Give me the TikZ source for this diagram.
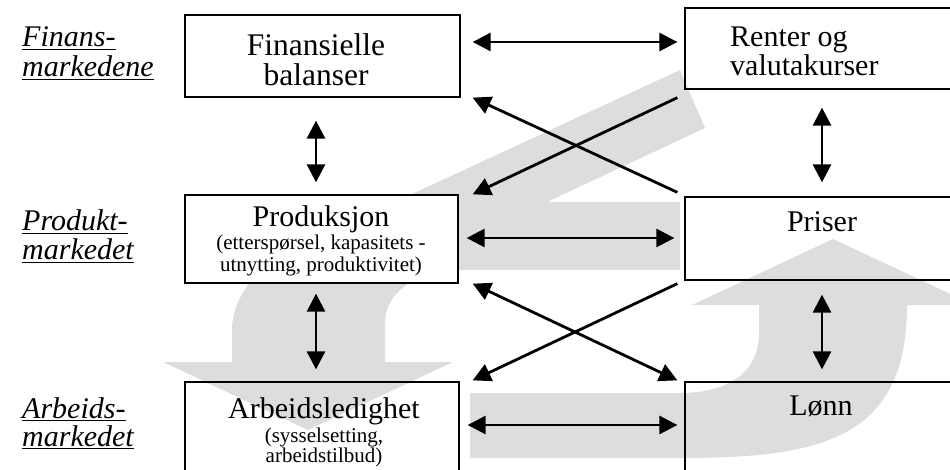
\documentclass[tikz,border=0pt]{standalone}
\usepackage{fontspec}
\setmainfont{Liberation Serif}
\usetikzlibrary{arrows.meta}
\definecolor{bandgrey}{RGB}{221,221,221}
\tikzset{
  box/.style={draw, line width=1.3pt, rectangle, inner sep=0pt},
  big/.style={font=\fontsize{30}{30}\selectfont, inner sep=0pt},
  bigger/.style={font=\fontsize{31.5}{30}\selectfont, inner sep=0pt},
  small/.style={font=\fontsize{21}{22}\selectfont, inner sep=0pt},
  lab/.style={font=\fontsize{30}{30}\selectfont\itshape, inner sep=0pt, anchor=base west},
  link/.style={line width=2.8pt, -{Triangle[length=18pt,width=18pt]}},
  dlink/.style={line width=2.8pt, {Triangle[length=18pt,width=18pt]}-{Triangle[length=18pt,width=18pt]}}
}
\begin{document}
\begin{tikzpicture}[x=1pt,y=-1pt]
\path[use as bounding box] (0,0) rectangle (950,470);
\clip (0,0) rectangle (950,470);
% grey cycle arrows
\fill[bandgrey] (680,70) -- (410,195) .. controls (300,228) and (232,275) .. (232,330) -- (232,362) -- (163,362) -- (308,430) -- (453,362) -- (385,362) -- (385,323) .. controls (385,290) and (420,270) .. (464,270) -- (680,270) -- (680,202) -- (547,202) -- (705,128) -- cycle;
\fill[bandgrey] (470,393) -- (680,393) .. controls (725,393) and (759,375) .. (759,333) -- (759,305) -- (692,305) -- (833,239) -- (974,305) -- (907,305) .. controls (907,440) and (820,458) .. (680,458) -- (470,458) -- cycle;
% boxes
\node[box, minimum width=275pt, minimum height=82pt] (fin) at (322.5,56) {};
\node[box, minimum width=270pt, minimum height=81pt] (ren) at (820,48.5) {};
\node[box, fill=white, minimum width=273pt, minimum height=88pt] (prod) at (321.5,239) {};
\node[box, minimum width=270pt, minimum height=83pt] (pri) at (820,238.5) {};
\node[box, minimum width=274pt, minimum height=94pt] (arb) at (322,429) {};
\node[box, minimum width=270pt, minimum height=94pt] (lon) at (820,429) {};
% box texts
\node[bigger, align=center] (t1) at (316,60) {Finansielle\\balanser};
\node[big, anchor=base west] (t3) at (730,47) {Renter og};
\node[big, anchor=base west] (t4) at (730,76) {valutakurser};
\node[big, anchor=base] (t5) at (321,227) {Produksjon};
\node[small, anchor=base] (t6) at (321,250) {(etterspørsel, kapasitets -};
\node[small, anchor=base] (t7) at (321,272) {utnytting, produktivitet)};
\node[big, anchor=base] (t8) at (822,232) {Priser};
\node[big, anchor=base] (t9) at (324,418) {Arbeidsledighet};
\node[small, anchor=base] (t10) at (324,442) {(sysselsetting,};
\node[small, anchor=base] (t11) at (324,462) {arbeidstilbud)};
\node[big, anchor=base] (t12) at (821,415) {Lønn};
% market labels
\node[lab] (l1) at (22,47) {\underline{Finans-}};
\node[lab] (l2) at (22,77) {\underline{markedene}};
\node[lab] (l3) at (22,231) {\underline{Produkt-}};
\node[lab] (l4) at (22,260) {\underline{markedet}};
\node[lab] (l5) at (22,418) {\underline{Arbeids-}};
\node[lab] (l6) at (22,446) {\underline{markedet}};
% connectors
\draw[dlink] ([shift={(12,-14)}]fin.east) -- ([shift={(-7,-6.5)}]ren.west);
\draw[dlink] ([shift={(-6.5,23)}]fin.south) -- ([shift={(-5.5,-12)}]prod.north);
\draw[dlink] ([shift={(2,18)}]ren.south) -- ([shift={(2,-14)}]pri.north);
\draw[link] ([shift={(-7,-4)}]pri.north west) -- ([shift={(12,0)}]fin.south east);
\draw[link] ([shift={(-7,8)}]ren.south west) -- ([shift={(14,0)}]prod.north east);
\draw[dlink] ([shift={(8,-1)}]prod.east) -- ([shift={(-10,-0.5)}]pri.west);
\draw[dlink] ([shift={(-5.5,10)}]prod.south) -- ([shift={(-6,-12)}]arb.north);
\draw[dlink] ([shift={(2,14)}]pri.south) -- ([shift={(2,-12)}]lon.north);
\draw[link] ([shift={(-7,3)}]pri.south west) -- ([shift={(13,-1)}]arb.north east);
\draw[dlink] ([shift={(14,0)}]prod.south east) -- ([shift={(-7,-1)}]lon.north west);
\draw[dlink] ([shift={(8,-4)}]arb.east) -- ([shift={(-7,-4)}]lon.west);
\end{tikzpicture}
\end{document}
